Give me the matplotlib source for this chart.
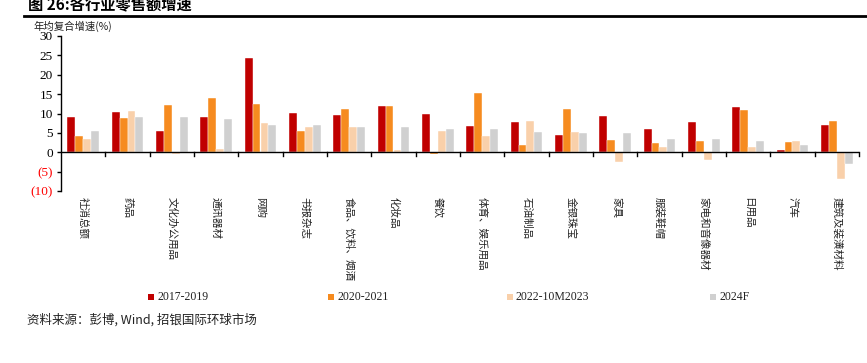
import matplotlib
matplotlib.use("Agg")
import matplotlib.pyplot as plt
import numpy as np
from matplotlib.patches import Rectangle

plt.rcParams['font.family'] = ['Noto Sans CJK SC', 'DejaVu Sans']

categories = ["社消总额", "药品", "文化办公用品", "通讯器材", "网购", "书报杂志",
              "食品、饮料、烟酒", "化妆品", "餐饮", "体育、娱乐用品", "石油制品",
              "金银珠宝", "家具", "服装鞋帽", "家电和音像器材", "日用品", "汽车",
              "建筑及装潢材料"]
series_names = ["2017-2019", "2020-2021", "2022-10M2023", "2024F"]
s2017_2019 = [9.2, 10.4, 5.4, 9.2, 24.2, 10.1, 9.7, 12.0, 10.0, 6.8, 7.9, 4.4, 9.4, 6.1, 7.9, 11.8, 0.7, 7.0]
s2020_2021 = [4.1, 8.9, 12.2, 13.9, 12.5, 5.4, 11.1, 11.9, -0.5, 15.2, 1.9, 11.2, 3.1, 2.5, 2.9, 10.8, 2.7, 8.1]
s2022_2023 = [3.4, 10.6, -0.5, 0.9, 7.6, 6.4, 6.6, 0.7, 5.5, 4.3, 8.1, 5.2, -2.5, 1.4, -2.0, 1.3, 2.9, -7.0]
s2024f = [5.4, 9.1, 9.1, 8.7, 7.1, 7.1, 6.6, 6.6, 6.1, 6.1, 5.1, 4.9, 4.9, 3.4, 3.4, 2.9, 2.0, -3.1]
yticks = [30, 25, 20, 15, 10, 5, 0, -5, -10]
ytick_labels = ["30", "25", "20", "15", "10", "5", "0", "(5)", "(10)"]

colors = ["#C00000", "#F68B1F", "#F9D0AA", "#D0D0D0"]
series = [s2017_2019, s2020_2021, s2022_2023, s2024f]

W, H = 867, 363
fig = plt.figure(figsize=(W / 100, H / 100), dpi=100)

def fx(px):
    return px / W

def fy(py):
    return 1 - py / H

ax = fig.add_axes([fx(61), fy(191), fx(859 - 61), fy(36) - fy(191)])

x = np.arange(len(categories))
bw = 0.18
for k, (vals, c) in enumerate(zip(series, colors)):
    ax.bar(x + (k - 1.5) * bw, vals, width=bw, color=c, edgecolor='white', linewidth=0.3)

ax.set_xlim(-0.5, len(categories) - 0.5)
ax.set_ylim(-10, 30)

for s in ['top', 'right', 'bottom']:
    ax.spines[s].set_visible(False)
ax.spines['left'].set_linewidth(1.0)

ax.axhline(0, color='black', linewidth=1.0, zorder=3)
for b in np.arange(0.5, len(categories), 1.0):
    ax.plot([b, b], [0, -1.0], color='black', linewidth=1.0, zorder=3, clip_on=False)

ax.set_xticks([])
ax.set_yticks(yticks)
ax.set_yticklabels(ytick_labels, family=['Liberation Serif'], fontsize=9.5)
for lbl, v in zip(ax.get_yticklabels(), yticks):
    lbl.set_color('#FF0000' if v < 0 else 'black')
ax.tick_params(axis='y', direction='out', length=3, width=1, pad=3)

for i, cat in enumerate(categories):
    ax.annotate(cat, xy=(i, 0), xycoords=('data', 'axes fraction'),
                xytext=(0, -4), textcoords='offset points',
                rotation=-90, ha='center', va='top', fontsize=7.6, color='#222222')

# title and rule
fig.text(fx(28), fy(4), "图 26:各行业零售额增速", fontsize=11, fontweight='bold',
         ha='left', va='center')
fig.add_artist(plt.Line2D([fx(24), fx(867)], [fy(15.5), fy(15.5)], color='black', linewidth=2))

fig.text(fx(33), fy(26), "年均复合增速(%)", fontsize=7.5, ha='left', va='center', color='#222222')

# legend (manual placement)
leg_x = [148, 328, 507, 710]
for name, c, lx in zip(series_names, colors, leg_x):
    fig.add_artist(Rectangle((fx(lx), fy(300)), fx(6), fy(294) - fy(300),
                             facecolor=c, edgecolor='none', transform=fig.transFigure))
    fig.text(fx(lx + 9), fy(297), name, fontsize=8.5, family=['Liberation Serif'],
             ha='left', va='center', color='#222222')

fig.text(fx(27), fy(320), "资料来源：彭博, Wind, 招银国际环球市场", fontsize=9,
         ha='left', va='center', color='#222222')

fig.savefig("out.png", dpi=100)
